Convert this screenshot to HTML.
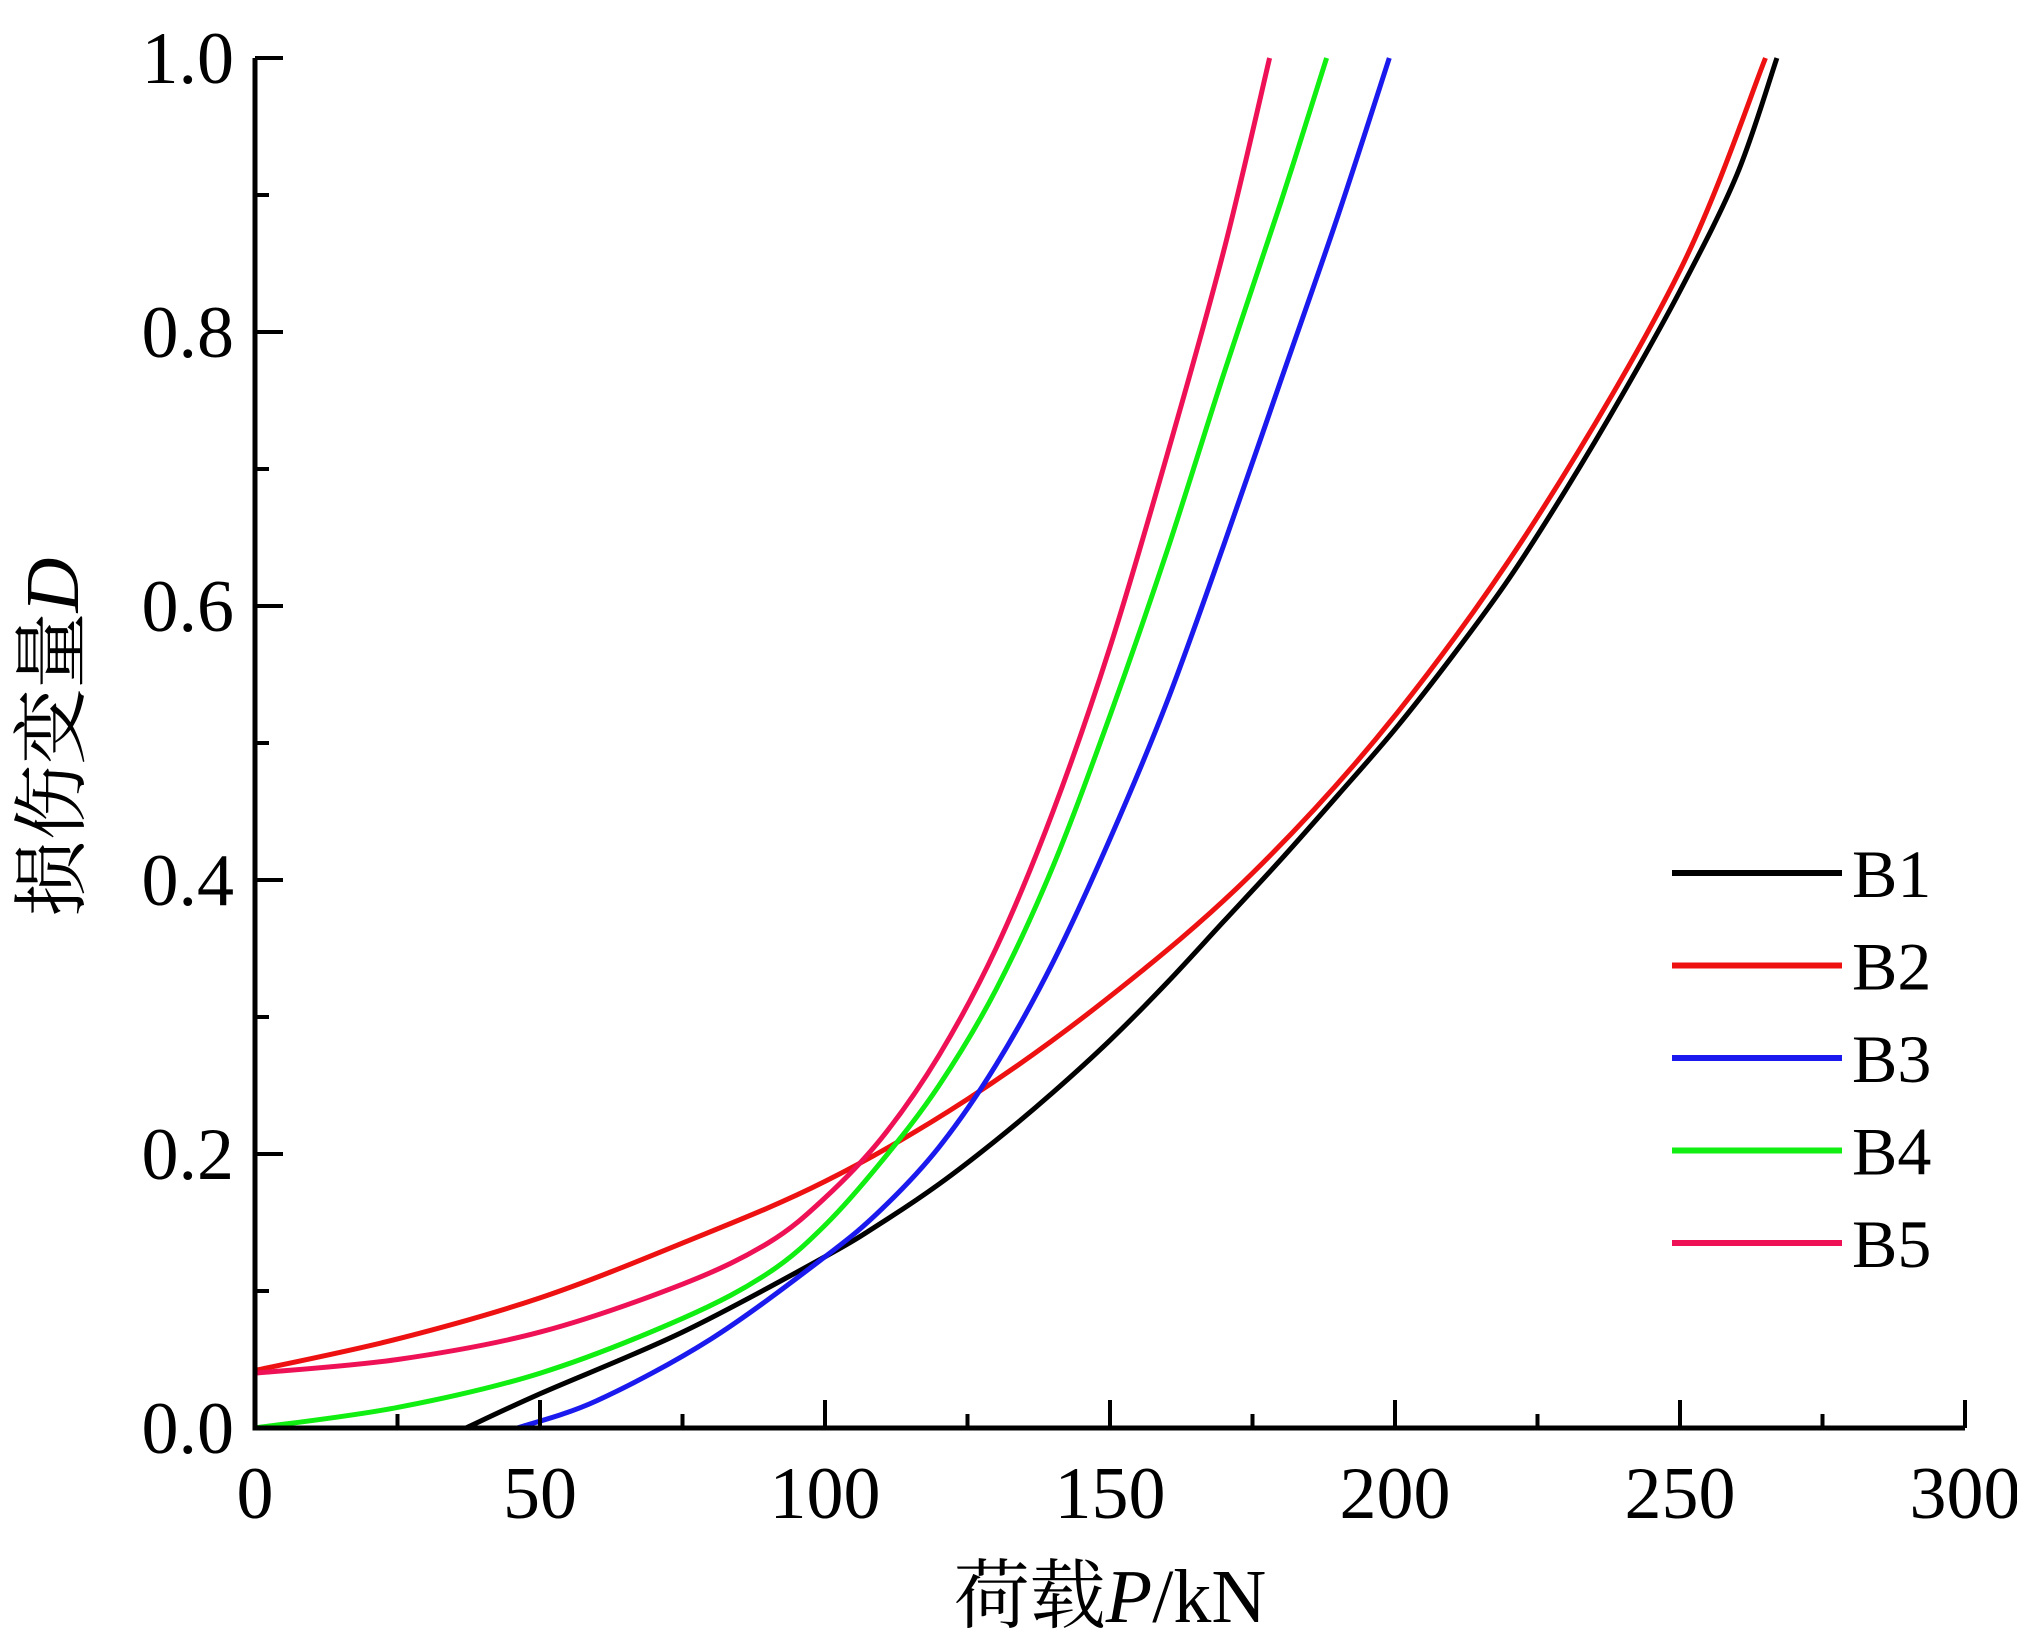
<!DOCTYPE html>
<html><head><meta charset="utf-8"><style>
html,body{margin:0;padding:0;background:#fff;}
svg{display:block;}
text{font-family:"Liberation Serif","Noto Serif CJK SC",serif;fill:#000;}
</style></head><body>
<svg id="chart" width="2017" height="1646" viewBox="0 0 2017 1646" xmlns="http://www.w3.org/2000/svg"></svg>
<script>
const xTicks=[0,50,100,150,200,250,300];
const yTicks=[0.0,0.2,0.4,0.6,0.8,1.0];
const yTickLabels=["0.0","0.2","0.4","0.6","0.8","1.0"];
const seriesNames=["B1","B2","B3","B4","B5"];
const seriesColors=["#000000","#ee1111","#1a1aee","#11ee11","#ee1155"];
const b1X=[37,50,75,100,110,120,130,140,150,160,170,180,190,200,210,220,230,240,250,260,267];
const b1Y=[0,0.025,0.07,0.125,0.15,0.178,0.21,0.245,0.283,0.325,0.37,0.415,0.462,0.51,0.563,0.62,0.685,0.755,0.83,0.915,1.0];
const b2X=[0,25,50,75,100,125,150,175,200,225,250,265];
const b2Y=[0.042,0.065,0.095,0.135,0.18,0.24,0.315,0.405,0.52,0.665,0.845,1.0];
const b3X=[46,60,80,100,110,120,130,140,150,160,170,180,190,199];
const b3Y=[0,0.02,0.065,0.125,0.16,0.205,0.265,0.34,0.43,0.53,0.645,0.765,0.885,1.0];
const b4X=[0,25,50,75,90,100,110,120,130,140,150,160,170,180,188];
const b4Y=[0,0.015,0.04,0.08,0.113,0.148,0.195,0.25,0.32,0.41,0.52,0.64,0.77,0.895,1.0];
const b5X=[0,25,50,75,90,100,110,120,130,140,150,160,170,178];
const b5Y=[0.04,0.05,0.07,0.105,0.135,0.168,0.212,0.272,0.35,0.45,0.57,0.71,0.86,1.0];
const seriesXs=[b1X,b2X,b3X,b4X,b5X];
const seriesYs=[b1Y,b2Y,b3Y,b4Y,b5Y];

const X0=255,X1=1965,Y0=1428,Y1=58;
const sx=v=>X0+(v-0)/(300-0)*(X1-X0);
const sy=v=>Y0-(v-0)/(1-0)*(Y0-Y1);
const NS="http://www.w3.org/2000/svg";
const svg=document.getElementById('chart');
function mk(tag,attrs,parent){const e=document.createElementNS(NS,tag);for(const k in attrs)e.setAttribute(k,attrs[k]);(parent||svg).appendChild(e);return e;}

for(let s=0;s<seriesNames.length;s++){
  const xs=seriesXs[s],ys=seriesYs[s];
  const pts=xs.map((x,i)=>[sx(x),sy(ys[i])]);
  let d="M"+pts[0][0]+","+pts[0][1];
  for(let i=0;i<pts.length-1;i++){
    const p0=pts[Math.max(i-1,0)],p1=pts[i],p2=pts[i+1],p3=pts[Math.min(i+2,pts.length-1)];
    const c1=[p1[0]+(p2[0]-p0[0])/6,p1[1]+(p2[1]-p0[1])/6];
    const c2=[p2[0]-(p3[0]-p1[0])/6,p2[1]-(p3[1]-p1[1])/6];
    d+=" C"+c1[0]+","+c1[1]+" "+c2[0]+","+c2[1]+" "+p2[0]+","+p2[1];
  }
  const p=mk('path',{d:d,fill:'none',stroke:seriesColors[s],'stroke-width':5,'stroke-linejoin':'round'});
  
  
}

const ax=mk('path',{d:`M${X0},${Y1} L${X0},${Y0} L${X1},${Y0}`,fill:'none',stroke:'#000','stroke-width':5});



for(let v=0;v<=300;v+=25){
  const major=v%50===0;
  const t=mk('line',{x1:sx(v),x2:sx(v),y1:Y0,y2:Y0-(major?28:14),stroke:'#000','stroke-width':4});
  
  
}
xTicks.forEach(v=>{
  const t=mk('text',{x:sx(v),y:1518,'font-size':74,'text-anchor':'middle'});
  t.textContent=String(v);
  
  
});
for(let i=0;i<=10;i++){
  const v=i/10;const major=i%2===0;
  const t=mk('line',{x1:X0,x2:X0+(major?28:14),y1:sy(v),y2:sy(v),stroke:'#000','stroke-width':4});
  
  
}
yTicks.forEach((v,i)=>{
  const t=mk('text',{x:234,y:sy(v)+25,'font-size':74,'text-anchor':'end'});
  t.textContent=yTickLabels[i];
  
  
});

seriesNames.forEach((n,i)=>{
  const y=873+i*92.5;
  const l=mk('line',{x1:1672,x2:1842,y1:y,y2:y,stroke:seriesColors[i],'stroke-width':6});
  
  
  const t=mk('text',{x:1852,y:y+24,'font-size':68});
  t.textContent=n;
  
  
});
</script>
<svg style="position:absolute;left:0;top:0" width="2017" height="1646">
<text x="1110" y="1622" font-size="76" text-anchor="middle" style="font-family:'Liberation Serif','Noto Serif CJK SC',serif">荷载<tspan font-style="italic">P</tspan>/kN</text>
<text transform="translate(78,737) rotate(-90)" font-size="76" text-anchor="middle" style="font-family:'Liberation Serif','Noto Serif CJK SC',serif">损伤变量<tspan font-style="italic">D</tspan></text>
</svg>
</body></html>
